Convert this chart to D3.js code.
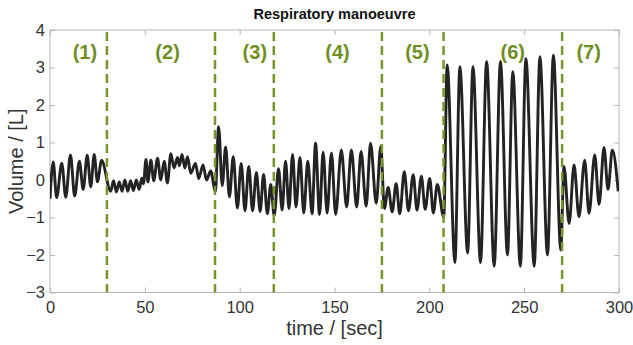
<!DOCTYPE html>
<html>
<head>
<meta charset="UTF-8">
<script src="https://d3js.org/d3.v7.min.js"></script>
<style>
  body { margin: 0; background: #fff; font-family: "Liberation Sans", Arial, sans-serif; }
  .tick-label { font-size: 16.5px; fill: #333; }
  .axis-label { font-size: 20px; fill: #333; }
  .title { font-size: 14.5px; font-weight: bold; fill: #111; }
  .phase { font-size: 20px; font-weight: bold; fill: #6f8f24; }
</style>
</head>
<body>
<div id="chart"></div>
<script>
// breath-by-breath turning points (sec, litres)
const time = [
  0, 1.7, 3.5, 6.2, 8.3, 10.8, 13, 15.5, 17.5, 19.6, 21.5, 23.3, 25, 27.2,
  32, 33.5, 35, 36.5, 38, 39.5, 41, 42.5, 44, 45.5, 47, 48.4, 49.3,
  50.6, 51.6, 53.2, 54.7, 56.7, 58.4, 60.2, 61.9, 63.7, 65.4, 67.2, 68.2, 69.6,
  71.1, 72.5, 74.2, 76.7, 78.4, 80.7, 82.5, 84.7, 87.2,
  88.9, 90.8, 92.6, 94.6, 96.6, 98.8, 100.8, 102.8, 104.8, 106.8, 108.8, 110.8,
  112.6, 114.6, 116.4, 118.2,
  120.5, 122.4, 124.2, 126, 127.9, 129.7, 131.8, 133.8, 135.9, 138.2, 140, 142.1,
  144, 146.1, 148.4, 150.6, 153.6, 156.4, 158.9, 161.7, 164, 166.7, 169, 172, 174.4,
  176.3, 178.3, 180.4, 182.5, 184.4, 186.8, 189, 191.5, 193.5, 195.8, 197.8,
  200.2, 202.1, 204.2, 207.6,
  209.4, 213.5, 216.1, 220.2, 223, 227, 230.2, 234.2, 237.5, 241.2, 244, 248,
  250.9, 255.3, 258.3, 262.3, 265.4, 269.3,
  271, 273.7, 276.3, 278.9, 281.9, 284.2, 287.2, 289.5, 292.1, 294.2, 296.5, 299.6
];
const volume = [
  -0.5, 0.48, -0.47, 0.45, -0.46, 0.67, -0.43, 0.5, -0.25, 0.66, -0.18, 0.68, -0.05, 0.52,
  -0.3, -0.02, -0.32, -0.05, -0.3, 0.0, -0.3, -0.02, -0.28, 0.0, -0.25, 0.05, -0.1,
  0.55, -0.05, 0.53, -0.02, 0.58, 0.0, 0.5, -0.08, 0.7, 0.32, 0.6, 0.38, 0.68,
  0.32, 0.62, 0.18, 0.44, 0.04, 0.4, 0.0, 0.24, -0.3,
  1.42, -0.15, 0.88, -0.45, 0.62, -0.75, 0.44, -0.82, 0.36, -0.82, 0.2, -0.84,
  0.15, -0.9, -0.12, -0.95,
  0.3, -0.8, 0.5, -0.76, 0.68, -0.72, 0.6, -0.88, 0.5, -0.9, 0.98, -0.92,
  0.74, -0.88, 0.72, -0.92, 0.8, -0.72, 0.8, -0.72, 0.76, -0.7, 0.98, -0.62, 0.9,
  -0.76, -0.2, -0.85, -0.1, -0.9, 0.22, -0.82, 0.14, -0.8, 0.1, -0.78,
  0.04, -0.88, -0.12, -1.0,
  3.07, -2.2, 3.02, -1.95, 3.02, -2.2, 3.16, -2.3, 3.16, -2.0, 2.89, -2.3,
  3.24, -2.3, 3.29, -2.0, 3.33, -1.87,
  0.36, -1.16, 0.4, -0.98, 0.53, -0.89, 0.67, -0.65, 0.87, -0.25, 0.8, -0.3
];
const boundaries = [30, 87, 118, 175, 207.5, 270];
const phaseNames = ['(1)', '(2)', '(3)', '(4)', '(5)', '(6)', '(7)'];
const phaseAt = [18.4, 62, 108, 151.6, 193.7, 244, 284];
const xTicks = [0, 50, 100, 150, 200, 250, 300];
const yTicks = [-3, -2, -1, 0, 1, 2, 3, 4];

const W = 633, H = 345;
const margin = { top: 30, right: 14, bottom: 52.5, left: 50 };
const width = W - margin.left - margin.right;
const height = H - margin.top - margin.bottom;

const svg = d3.select('#chart').append('svg')
  .attr('width', W).attr('height', H);

const g = svg.append('g')
  .attr('transform', `translate(${margin.left},${margin.top})`);

const x = d3.scaleLinear().domain([0, 300]).range([0, width]);
const y = d3.scaleLinear().domain([-3, 4]).range([height, 0]);

// ticks on all four sides, pointing inwards
const tl = 5;
const frame = '#b5b5b5';
const fmt = d3.format('d');
g.append('g').attr('transform', `translate(0,${height})`)
  .call(d3.axisBottom(x).tickValues(xTicks).tickSizeInner(-tl).tickSizeOuter(0).tickPadding(9).tickFormat(fmt))
  .call(a => a.select('.domain').remove())
  .call(a => a.selectAll('line').attr('stroke', frame))
  .call(a => a.selectAll('text').attr('class', 'tick-label').attr('font-size', null).attr('font-family', null));
g.append('g')
  .call(d3.axisTop(x).tickValues(xTicks).tickSizeInner(-tl).tickSizeOuter(0).tickFormat(''))
  .call(a => a.select('.domain').remove())
  .call(a => a.selectAll('line').attr('stroke', frame));
g.append('g')
  .call(d3.axisLeft(y).tickValues(yTicks).tickSizeInner(-tl).tickSizeOuter(0).tickPadding(5).tickFormat(fmt))
  .call(a => a.select('.domain').remove())
  .call(a => a.selectAll('line').attr('stroke', frame))
  .call(a => a.selectAll('text').attr('class', 'tick-label').attr('font-size', null).attr('font-family', null));
g.append('g').attr('transform', `translate(${width},0)`)
  .call(d3.axisRight(y).tickValues(yTicks).tickSizeInner(-tl).tickSizeOuter(0).tickFormat(''))
  .call(a => a.select('.domain').remove())
  .call(a => a.selectAll('line').attr('stroke', frame));

g.append('rect')
  .attr('width', width).attr('height', height)
  .attr('fill', 'none').attr('stroke', frame).attr('stroke-width', 1);

g.append('clipPath').attr('id', 'clip')
  .append('rect').attr('width', width).attr('height', height);

const pts = time.map((t, i) => [t, volume[i]]);
const line = d3.line()
  .x(d => x(d[0]))
  .y(d => y(d[1]))
  .curve(d3.curveMonotoneX);

g.append('path')
  .datum(pts)
  .attr('clip-path', 'url(#clip)')
  .attr('fill', 'none')
  .attr('stroke', '#232323')
  .attr('stroke-width', 2.9)
  .attr('stroke-linejoin', 'round')
  .attr('d', line);

g.selectAll('.bound')
  .data(boundaries)
  .enter().append('line')
  .attr('class', 'bound')
  .attr('x1', d => x(d)).attr('x2', d => x(d))
  .attr('y1', 2).attr('y2', height)
  .attr('stroke', '#76962a')
  .attr('stroke-width', 2.5)
  .attr('stroke-dasharray', '9,5');

g.selectAll('.phase')
  .data(phaseNames)
  .enter().append('text')
  .attr('class', 'phase')
  .attr('x', (d, i) => x(phaseAt[i]))
  .attr('y', 29)
  .attr('text-anchor', 'middle')
  .text(d => d);

svg.append('text')
  .attr('class', 'title')
  .attr('x', margin.left + width / 2)
  .attr('y', 19)
  .attr('text-anchor', 'middle')
  .text('Respiratory manoeuvre');

svg.append('text')
  .attr('class', 'axis-label')
  .attr('x', margin.left + width / 2)
  .attr('y', 335)
  .attr('text-anchor', 'middle')
  .text('time / [sec]');

svg.append('text')
  .attr('class', 'axis-label')
  .attr('transform', `translate(23,${margin.top + height / 2}) rotate(-90)`)
  .attr('text-anchor', 'middle')
  .text('Volume / [L]');
</script>
</body>
</html>
